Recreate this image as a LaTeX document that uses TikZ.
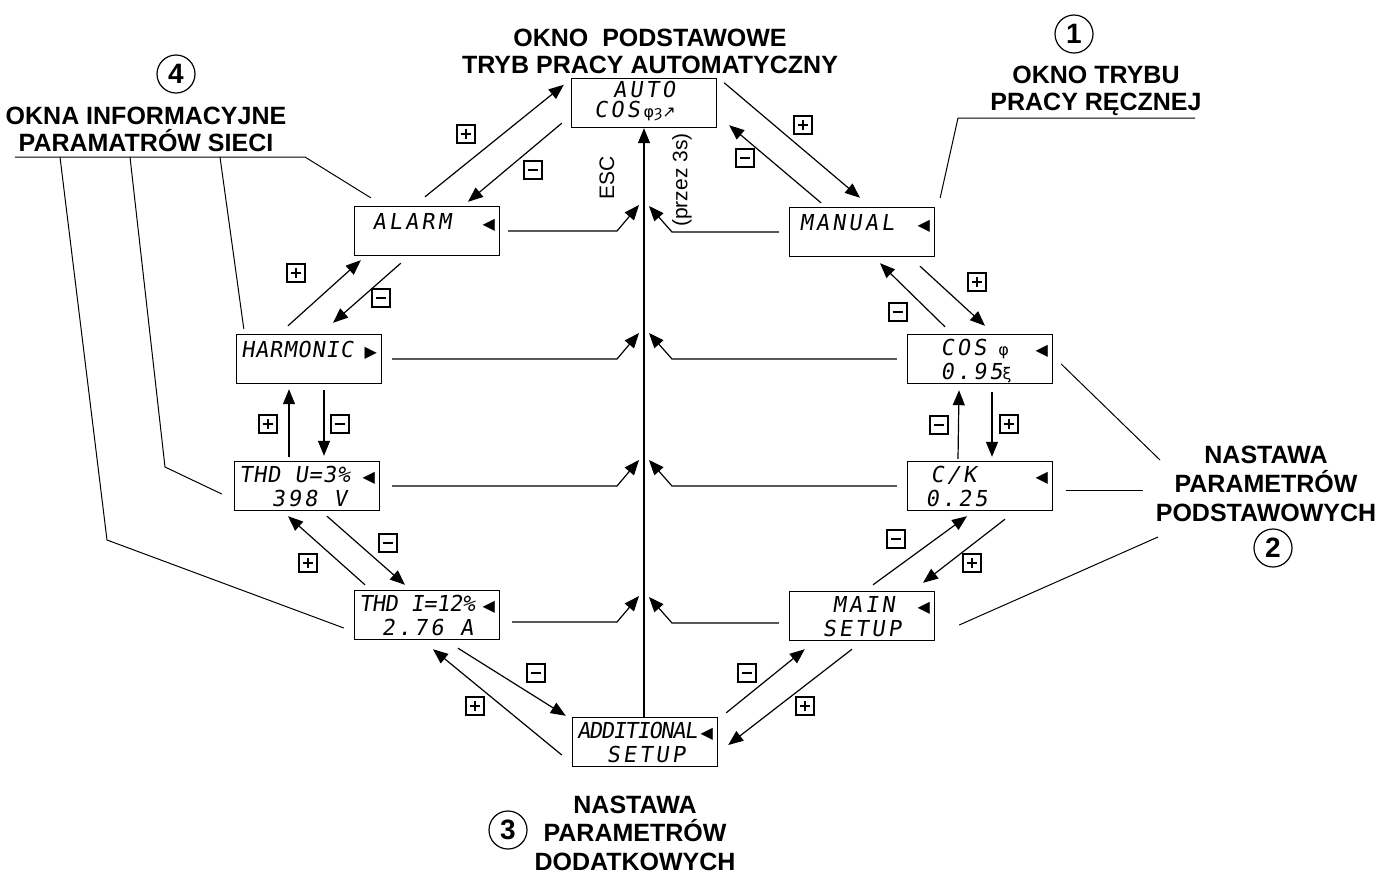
\documentclass[tikz,border=0pt]{standalone}
\usepackage{fontspec}
\setmainfont{Liberation Sans}
\newfontfamily\lcdfont[FakeSlant=0.15,LetterSpace=14]{DejaVu Sans Mono}
\newfontfamily\symfont{DejaVu Sans}
\usetikzlibrary{arrows.meta}
\setlength{\lineskiplimit}{-20pt}
\newcommand\lcdrow[3]{\makebox[68pt][l]{\hspace*{#1}#2\hfill#3}}
\newcommand\lcdtwo[6]{\lcdrow{#1}{#2}{#3}\rule{0pt}{8.5pt}\\\lcdrow{#4}{#5}{#6}}
\newcommand\lcdone[3]{\lcdrow{#1}{#2}{#3}\rule[-10pt]{0pt}{18.5pt}}
\newcommand\tril{{\symfont\fontsize{8}{9}\selectfont ◀}}
\newcommand\trir{{\symfont\fontsize{8}{9}\selectfont ▶}}
\newcommand\lcdsym[1]{{\symfont\fontsize{8}{9}\selectfont #1}}

\begin{document}
\begin{tikzpicture}[
  x=0.5pt, y=-0.5pt,
  lcd/.style={
    draw,
    line width=0.7pt,
    minimum width=72.5pt,
    minimum height=24.5pt,
    inner xsep=2.25pt,
    inner ysep=0pt,
    align=left,
    font=\lcdfont\fontsize{11}{12}\selectfont
  },
  arrow/.style={-{Triangle[length=7.5pt,width=6pt]}, line width=0.6pt},
  callout/.style={line width=0.5pt},
  keybox/.style={draw, line width=0.6pt, minimum size=9pt, inner sep=0pt},
  pluskey/.style={keybox, path picture={
    \draw[line width=1.4pt] ([xshift=1.8pt]path picture bounding box.west) -- ([xshift=-1.8pt]path picture bounding box.east)
      ([yshift=-1.8pt]path picture bounding box.north) -- ([yshift=1.8pt]path picture bounding box.south);}},
  minuskey/.style={keybox, path picture={
    \draw[line width=1.4pt] ([xshift=1.8pt]path picture bounding box.west) -- ([xshift=-1.8pt]path picture bounding box.east);}},
  numcirc/.style={draw, circle, line width=0.6pt, minimum size=19pt, inner sep=0pt, font=\bfseries\fontsize{14}{14}\selectfont},
  caption/.style={align=center, font=\bfseries\fontsize{12.5}{13.5}\selectfont},
  esc/.style={rotate=90, font=\fontsize{10.5}{12}\selectfont}
]
\useasboundingbox (0,0) rectangle (1377,874);

\node[lcd, font=\lcdfont\fontsize{11}{10}\selectfont] (auto) at (644,103) {\lcdtwo{18.5pt}{AUTO}{}{9pt}{COS\,\lcdsym{φȝ↗}}{}\rule[-4pt]{0pt}{0pt}};
\node[lcd] (alarm) at (427,231) {\lcdone{6.75pt}{ALARM}{\tril}};
\node[lcd] (manual) at (862,232) {\lcdone{2.75pt}{MANUAL}{\tril}};
\node[lcd] (harm) at (309,359) {\lcdone{0pt}{\addfontfeature{LetterSpace=4}HARMONIC}{\trir}};
\node[lcd] (cosfi) at (980,359) {\lcdtwo{14.25pt}{COS\hspace{6pt}\lcdsym{φ}}{\tril}{14.25pt}{0.95\smash{\lcdsym{ξ}}}{}};
\node[lcd] (thdu) at (307,486) {\lcdtwo{0pt}{\addfontfeature{LetterSpace=4}THD U=3\%}{\tril}{16.25pt}{398 V}{}};
\node[lcd] (ck) at (980,486) {\lcdtwo{9.25pt}{C/K}{\tril}{6.75pt}{0.25}{}};
\node[lcd] (thdi) at (427,615) {\lcdtwo{0pt}{\addfontfeature{LetterSpace=-2}THD I=12\%}{\tril}{11.25pt}{2.76 A}{}};
\node[lcd] (mainset) at (862,616) {\lcdtwo{19.25pt}{MAIN}{\tril}{14.25pt}{SETUP}{}};
\node[lcd] (addset) at (645,742) {\lcdtwo{0pt}{\addfontfeature{LetterSpace=-6}ADDITIONAL}{\tril}{14.75pt}{SETUP}{}};

\node[caption] (toplbl) at (650,51) {OKNO~~PODSTAWOWE\\TRYB PRACY AUTOMATYCZNY};
\node[numcirc] (n1) at (1074,34) {1};
\node[caption] (manlbl) at (1096,91) {OKNO TRYBU\\PRACY RĘCZNEJ};
\node[numcirc] (n4) at (176,74) {4};
\node[caption] (infolbl) at (146,129) {OKNA INFORMACYJNE\\PARAMATRÓW SIECI};
\node[caption, font=\bfseries\fontsize{12.5}{14.5}\selectfont] (baslbl) at (1266,484) {NASTAWA\\PARAMETRÓW\\PODSTAWOWYCH};
\node[numcirc] (n2) at (1273,548) {2};
\node[numcirc] (n3) at (508,830) {3};
\node[caption, font=\bfseries\fontsize{12.5}{14.2}\selectfont] (addlbl) at (635,833) {NASTAWA\\PARAMETRÓW\\DODATKOWYCH};

\node[esc] (esclbl) at (607,178) {ESC};
\node[esc] (holdlbl) at (682,180) {(przez 3s)};

\node[pluskey] (kp1) at (466,134) {};
\node[minuskey] (km1) at (533,170) {};
\node[pluskey] (kp2) at (803,125) {};
\node[minuskey] (km2) at (745,158) {};
\node[pluskey] (kp3) at (296,273) {};
\node[minuskey] (km3) at (381,298) {};
\node[pluskey] (kp4) at (977,282) {};
\node[minuskey] (km4) at (898,312) {};
\node[pluskey] (kp5) at (268,424) {};
\node[minuskey] (km5) at (340,424) {};
\node[minuskey] (km6) at (939,425) {};
\node[pluskey] (kp6) at (1009,424) {};
\node[minuskey] (km7) at (388,543) {};
\node[pluskey] (kp7) at (308,563) {};
\node[minuskey] (km8) at (896,539) {};
\node[pluskey] (kp8) at (972,563) {};
\node[minuskey] (km9) at (536,673) {};
\node[pluskey] (kp9) at (475,706) {};
\node[minuskey] (km10) at (747,673) {};
\node[pluskey] (kp10) at (805,706) {};

\draw[arrow] ([shift={(-2,-9)}]alarm.north) -- ([shift={(-7,7)}]auto.north west);
\draw[arrow] ([shift={(-9,-5)}]auto.south west) -- ([shift={(41,-4)}]alarm.north);
\draw[arrow] ([shift={(7,5)}]auto.north east) -- ([shift={(-2,-9)}]manual.north);
\draw[arrow] ([shift={(-41,-4)}]manual.north) -- ([shift={(12,-3)}]auto.south east);
\draw[arrow] ([shift={(-21,-8)}]harm.north) -- ([shift={(7,4)}]alarm.south west);
\draw[arrow] ([shift={(47,7)}]alarm.south west) -- ([shift={(24,-11)}]harm.north);
\draw[arrow] ([shift={(-35,-7)}]cosfi.north) -- ([shift={(18,6)}]manual.south);
\draw[arrow] ([shift={(58,9)}]manual.south) -- ([shift={(5,-8)}]cosfi.north);
\draw[arrow] ([shift={(-18,-4)}]thdu.north) -- ([shift={(-20,5)}]harm.south);
\draw[arrow] ([shift={(15,6)}]harm.south) -- ([shift={(17,-5)}]thdu.north);
\draw[arrow] ([shift={(-22,-2)}]ck.north) -- ([shift={(-21,6)}]cosfi.south);
\draw[arrow] ([shift={(12,8)}]cosfi.south) -- ([shift={(12,-4)}]ck.north);
\draw[arrow] ([shift={(20,5)}]thdu.south) -- ([shift={(-22,-5)}]thdi.north);
\draw[arrow] ([shift={(-62,-5)}]thdi.north) -- ([shift={(-19,5)}]thdu.south);
\draw[arrow] ([shift={(11,-6)}]mainset.north) -- ([shift={(-13,5)}]ck.south);
\draw[arrow] ([shift={(25,8)}]ck.south) -- ([shift={(61,-8)}]mainset.north);
\draw[arrow] ([shift={(31,8)}]thdi.south) -- ([shift={(-6,-1)}]addset.north west);
\draw[arrow] ([shift={(-10,13)}]addset.west) -- ([shift={(6,9)}]thdi.south);
\draw[arrow] ([shift={(8,-4)}]addset.north east) -- ([shift={(16,8)}]mainset.south west);
\draw[arrow] ([shift={(-10,8)}]mainset.south) -- ([shift={(10,3)}]addset.east);

\draw[arrow] (auto.south |- addset.north) -- (auto.south);

\coordinate (hubL) at (617,0);
\coordinate (hubR) at (672,0);
\draw[arrow] ([xshift=4pt]alarm.east) -- (alarm.east -| hubL) -- ++(22,-26);
\draw[arrow] ([xshift=5pt]harm.east) -- (harm.east -| hubL) -- ++(22,-26);
\draw[arrow] ([xshift=6pt]thdu.east) -- (thdu.east -| hubL) -- ++(22,-26);
\draw[arrow] ([shift={(12,7)}]thdi.east) -- ([yshift=-3.5pt]thdi.east -| hubL) -- ++(22,-26);
\draw[arrow] ([xshift=-5pt]manual.west) -- (manual.west -| hubR) -- ++(-23,-26);
\draw[arrow] ([xshift=-5pt]cosfi.west) -- (cosfi.west -| hubR) -- ++(-23,-26);
\draw[arrow] ([xshift=-5pt]ck.west) -- (ck.west -| hubR) -- ++(-23,-26);
\draw[arrow] ([shift={(-10,7)}]mainset.west) -- ([yshift=-3.5pt]mainset.west -| hubR) -- ++(-23,-26);

\coordinate (lbarW) at (15,157);
\coordinate (lbarE) at (305,157);
\coordinate (lb1) at (60,157);
\coordinate (lb2) at (130,157);
\coordinate (lb3) at (220,157);
\draw[callout] (lbarW) -- (lbarE) -- ([shift={(17,-8)}]alarm.north west);
\draw[callout] (lb1) -- (107,540) -- ([shift={(-10,13)}]thdi.west);
\draw[callout] (lb2) -- (165,467) -- ([shift={(-12,8)}]thdu.west);
\draw[callout] (lb3) -- ([shift={(8,-5)}]harm.north west);

\coordinate (rbarE) at (1195,118);
\coordinate (rbarW) at (958,118);
\draw[callout] (rbarE) -- (rbarW) -- ([shift={(5,-9)}]manual.north east);

\coordinate (bas1) at (1160,460);
\coordinate (bas2) at (1143,490);
\coordinate (bas3) at (1158,537);
\draw[callout] ([shift={(8,5)}]cosfi.east) -- (bas1);
\draw[callout] ([shift={(13,4)}]ck.east) -- (bas2);
\draw[callout] ([shift={(24,9)}]mainset.east) -- (bas3);

\end{tikzpicture}
\end{document}
